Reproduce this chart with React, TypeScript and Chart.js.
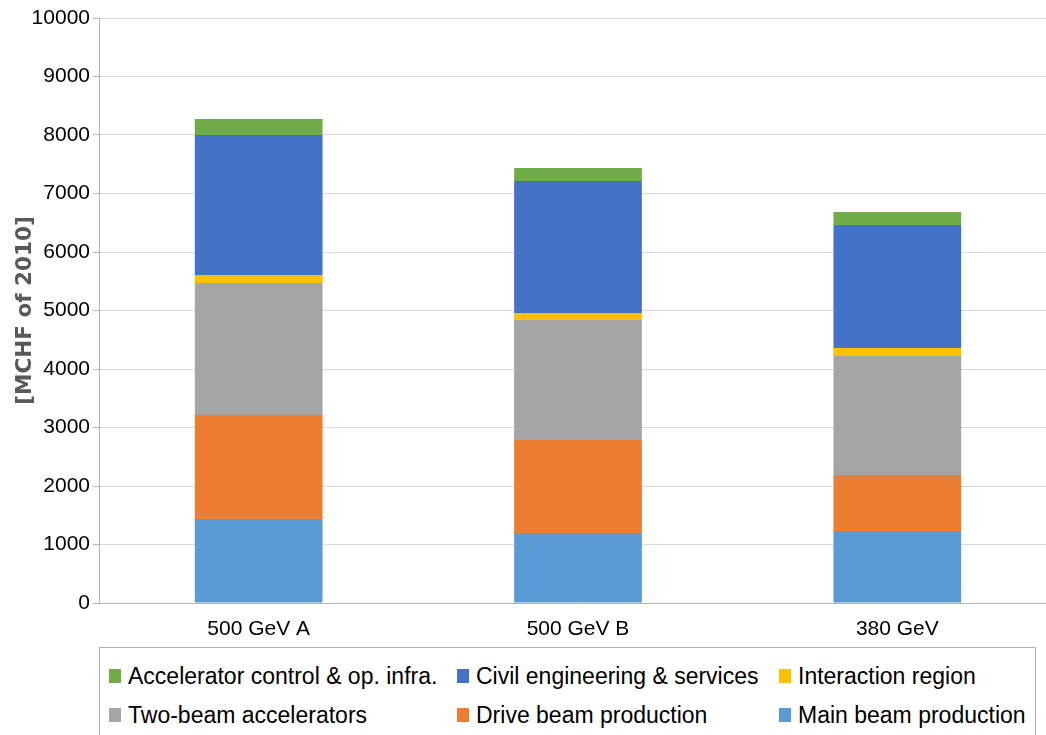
import React, { useEffect, useRef } from "react";
import { Chart, registerables } from "chart.js";

Chart.register(...registerables);

const categories = ["500 GeV A", "500 GeV B", "380 GeV"];
const mainBeam = [1436, 1197, 1231];
const driveBeam = [1778, 1589, 957];
const twoBeam = [2256, 2052, 2034];
const interactionRegion = [137, 119, 137];
const civilEngineering = [2393, 2257, 2103];
const acceleratorControl = [274, 222, 222];

const seriesNames = [
  "Main beam production",
  "Drive beam production",
  "Two-beam accelerators",
  "Interaction region",
  "Civil engineering & services",
  "Accelerator control & op. infra.",
];
const seriesColors = ["#5b9bd5", "#ed7d31", "#a5a5a5", "#ffc000", "#4472c4", "#70ad47"];
const seriesValues = [mainBeam, driveBeam, twoBeam, interactionRegion, civilEngineering, acceleratorControl];

const yMin = 0;
const yMax = 10000;
const yStep = 1000;
const yTitle = "[MCHF of 2010]";

// legend layout: reverse of stacking order, 3 columns
const legendOrder = [5, 4, 3, 2, 1, 0];
const legendCols = [9, 357, 679];
const legendRows = [28, 67];

const CW = 1057;
const CH = 645;

export default function App() {
  const ref = useRef<HTMLCanvasElement | null>(null);
  useEffect(() => {
    if (!ref.current) return;
    const chart = new Chart(ref.current, {
      type: "bar",
      data: {
        labels: categories,
        datasets: seriesNames.map((name, i) => ({
          label: name,
          data: seriesValues[i],
          backgroundColor: seriesColors[i],
          borderWidth: 0,
          categoryPercentage: 0.8,
          barPercentage: 0.5,
        })),
      },
      options: {
        responsive: false,
        maintainAspectRatio: false,
        animation: false,
        layout: { padding: { top: 18, left: 0, right: 0, bottom: 0 } },
        plugins: { legend: { display: false }, tooltip: { enabled: false } },
        scales: {
          x: {
            stacked: true,
            grid: { display: false },
            border: { display: true, color: "#b3b3b3" },
            ticks: {
              color: "#000",
              font: { family: "'Liberation Sans', Arial, sans-serif", size: 21 },
              padding: 6,
            },
            afterFit: (s: any) => {
              s.height = CH - 603;
            },
          },
          y: {
            stacked: true,
            min: yMin,
            max: yMax,
            ticks: {
              stepSize: yStep,
              color: "#000",
              font: { family: "'Liberation Sans', Arial, sans-serif", size: 21 },
              padding: 3,
              callback: (v: any) => String(v),
            },
            grid: { color: "#d9d9d9", tickLength: 6, tickColor: "#b3b3b3" },
            border: { display: true, color: "#b3b3b3" },
            title: {
              display: true,
              text: yTitle,
              color: "#595959",
              font: { family: "'DejaVu Sans', sans-serif", size: 21.5, weight: "bold" },
              padding: { top: 13, bottom: 0 },
            },
            afterFit: (s: any) => {
              s.width = 99;
            },
          },
        },
      },
    });
    return () => chart.destroy();
  }, []);

  return (
    <div
      style={{
        position: "fixed",
        left: 0,
        top: 0,
        width: 1046,
        height: 735,
        overflow: "hidden",
        background: "#fff",
      }}
    >
      <div style={{ position: "absolute", left: 0, top: 0, width: CW, height: CH }}>
        <canvas ref={ref} width={CW} height={CH} style={{ width: CW, height: CH, display: "block" }} />
      </div>
      <div
        style={{
          position: "absolute",
          left: 99,
          top: 647,
          width: 937,
          height: 110,
          border: "1px solid #b3b3b3",
          boxSizing: "border-box",
          fontFamily: "'Liberation Sans', Arial, sans-serif",
          fontSize: 23,
          color: "#000",
        }}
      >
        {legendOrder.map((si, k) => {
          const col = k % 3;
          const row = Math.floor(k / 3);
          return (
            <div
              key={si}
              style={{
                position: "absolute",
                left: legendCols[col],
                top: legendRows[row] - 14,
                height: 28,
                display: "flex",
                alignItems: "center",
                whiteSpace: "nowrap",
              }}
            >
              <span
                style={{
                  display: "inline-block",
                  width: 12,
                  height: 14,
                  background: seriesColors[si],
                  marginRight: 7,
                }}
              />
              <span>{seriesNames[si]}</span>
            </div>
          );
        })}
      </div>
    </div>
  );
}
